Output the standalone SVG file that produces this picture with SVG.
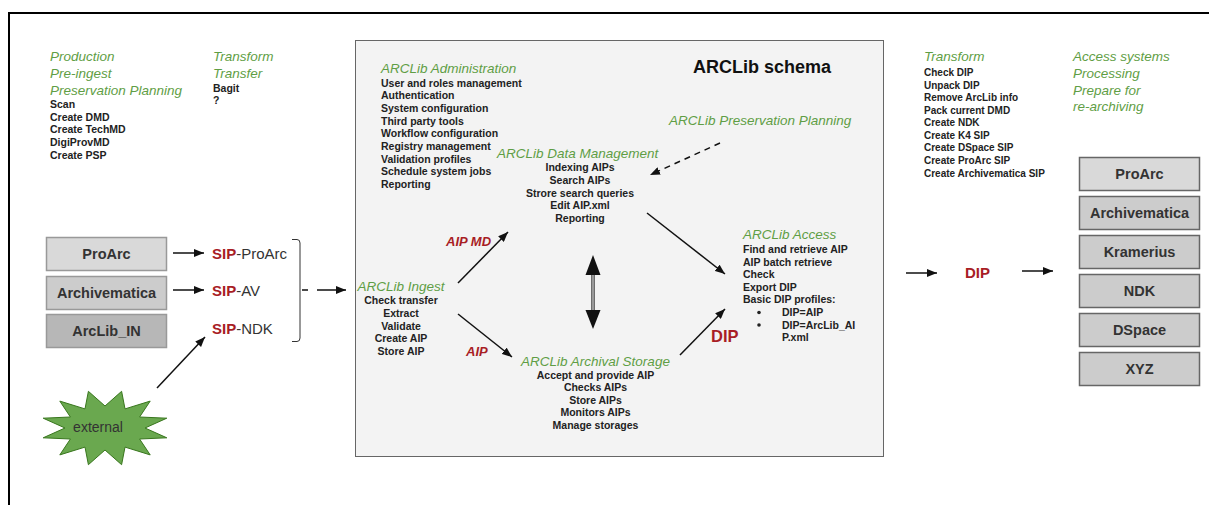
<svg xmlns="http://www.w3.org/2000/svg" width="1209" height="505" viewBox="0 0 1209 505">
<defs>
<marker id="ah" viewBox="0 0 10 8" refX="10" refY="4" markerWidth="10" markerHeight="8" markerUnits="userSpaceOnUse" orient="auto"><path d="M0,0 L10,4 L0,8 z" fill="#111"/></marker>
</defs>
<style>
.g{font-family:"Liberation Sans",Arial,sans-serif;font-style:italic;font-size:13.5px;fill:#5f9e45}
.b{font-family:"Liberation Sans",Arial,sans-serif;font-weight:bold;font-size:10.5px;fill:#222}
.br{font-family:"Liberation Sans",Arial,sans-serif;font-weight:bold;font-size:10px;fill:#222}
.c{text-anchor:middle}
.red{fill:#a81d25}
.bx{font-family:"Liberation Sans",Arial,sans-serif;font-weight:bold;font-size:14.5px;fill:#333;text-anchor:middle}
.sip{font-family:"Liberation Sans",Arial,sans-serif;font-size:15px;fill:#333}
.ln{stroke:#111;stroke-width:1.5;fill:none}
.lb{stroke:#999;stroke-width:1.5}
.rb{stroke:#666;stroke-width:1.5}
</style>
<rect x="0" y="0" width="1209" height="505" fill="#fff"/>
<path d="M9,505 L9,13 L1209,13" fill="none" stroke="#000" stroke-width="2"/>

<g id="left-texts">
<text class="g" x="50" y="61">Production</text>
<text class="g" x="50" y="78">Pre-ingest</text>
<text class="g" x="50" y="95">Preservation Planning</text>
<text class="b" x="50" y="108">Scan</text>
<text class="b" x="50" y="121">Create DMD</text>
<text class="b" x="50" y="133">Create TechMD</text>
<text class="b" x="50" y="146">DigiProvMD</text>
<text class="b" x="50" y="159">Create PSP</text>
<text class="g" x="213" y="61">Transform</text>
<text class="g" x="213" y="78">Transfer</text>
<text class="b" x="213" y="92">Bagit</text>
<text class="b" x="213" y="104">?</text>
</g>

<g id="arclib-schema">
<rect x="355.5" y="40.5" width="528" height="416" fill="#f3f3f3" stroke="#666" stroke-width="1"/>
<text x="693" y="73" font-family="Liberation Sans, Arial, sans-serif" font-weight="bold" font-size="18" fill="#111">ARCLib schema</text>
</g>

<g id="administration">
<text class="g" x="381" y="73">ARCLib Administration</text>
<text class="b" x="381" y="86.5">User and roles management</text>
<text class="b" x="381" y="99">Authentication</text>
<text class="b" x="381" y="112">System configuration</text>
<text class="b" x="381" y="124.5">Third party tools</text>
<text class="b" x="381" y="137">Workflow configuration</text>
<text class="b" x="381" y="150">Registry management</text>
<text class="b" x="381" y="162.5">Validation profiles</text>
<text class="b" x="381" y="175">Schedule system jobs</text>
<text class="b" x="381" y="188">Reporting</text>
</g>

<g id="preservation-planning">
<text class="g" x="669" y="125">ARCLib Preservation Planning</text>
</g>

<g id="data-management">
<text class="g" x="497" y="158">ARCLib Data Management</text>
<text class="b c" x="580" y="171">Indexing AIPs</text>
<text class="b c" x="580" y="184">Search AIPs</text>
<text class="b c" x="580" y="196.5">Strore search queries</text>
<text class="b c" x="580" y="209">Edit AIP.xml</text>
<text class="b c" x="580" y="221.5">Reporting</text>
</g>

<g id="ingest">
<text class="g c" x="401" y="291">ARCLib Ingest</text>
<text class="b c" x="401" y="304">Check transfer</text>
<text class="b c" x="401" y="317">Extract</text>
<text class="b c" x="401" y="329.5">Validate</text>
<text class="b c" x="401" y="342">Create AIP</text>
<text class="b c" x="401" y="355">Store AIP</text>
</g>

<g id="archival-storage">
<text class="g c" x="595.5" y="366">ARCLib Archival Storage</text>
<text class="b c" x="595.5" y="378.5">Accept and provide AIP</text>
<text class="b c" x="595.5" y="391">Checks AIPs</text>
<text class="b c" x="595.5" y="403.5">Store AIPs</text>
<text class="b c" x="595.5" y="416">Monitors AIPs</text>
<text class="b c" x="595.5" y="429">Manage storages</text>
</g>

<g id="access">
<text class="g" x="743" y="239">ARCLib Access</text>
<text class="b" x="743" y="253">Find and retrieve AIP</text>
<text class="b" x="743" y="265.5">AIP batch retrieve</text>
<text class="b" x="743" y="278">Check</text>
<text class="b" x="743" y="290.5">Export DIP</text>
<text class="b" x="743" y="303">Basic DIP profiles:</text>
<circle cx="759" cy="312.5" r="1.8" fill="#222"/>
<circle cx="759" cy="325" r="1.8" fill="#222"/>
<text class="b" x="782" y="316">DIP=AIP</text>
<text class="b" x="782" y="328.5">DIP=ArcLib_AI</text>
<text class="b" x="782" y="341">P.xml</text>
</g>

<g id="right-texts">
<text class="g" x="924" y="61">Transform</text>
<text class="br" x="924" y="76">Check DIP</text>
<text class="br" x="924" y="88.5">Unpack DIP</text>
<text class="br" x="924" y="101">Remove ArcLib info</text>
<text class="br" x="924" y="113.5">Pack current DMD</text>
<text class="br" x="924" y="126">Create NDK</text>
<text class="br" x="924" y="138.5">Create K4 SIP</text>
<text class="br" x="924" y="151">Create DSpace SIP</text>
<text class="br" x="924" y="163.5">Create ProArc SIP</text>
<text class="br" x="924" y="176.5">Create Archivematica SIP</text>
<text class="g" x="1073" y="61">Access systems</text>
<text class="g" x="1073" y="78">Processing</text>
<text class="g" x="1073" y="95">Prepare for</text>
<text class="g" x="1073" y="111">re-archiving</text>
</g>

<g id="src-proarc"><rect x="46.5" y="237.5" width="120" height="33" fill="#d9d9d9" class="lb"/><text class="bx" x="106.5" y="259">ProArc</text></g>
<g id="src-archivematica"><rect x="46.5" y="276.5" width="120" height="33" fill="#cccccc" class="lb"/><text class="bx" x="106.5" y="298">Archivematica</text></g>
<g id="src-arclib-in"><rect x="46.5" y="314.5" width="120" height="33" fill="#b7b7b7" class="lb"/><text class="bx" x="106.5" y="336">ArcLib_IN</text></g>

<g id="external">
<polygon points="105,406 121.6,391.3 125,408.9 150.2,401.1 139.6,417 166.8,418.2 145,428 166.8,437.8 139.6,439 150.2,454.9 125,447.1 121.6,464.7 105,450 88.4,464.7 85,447.1 59.8,454.9 70.4,439 43.2,437.8 65,428 43.2,418.2 70.4,417 59.8,401.1 85,408.9 88.4,391.3" fill="#6aa84f" stroke="#38761d" stroke-width="1"/>
<text x="98" y="432" font-family="Liberation Sans, Arial, sans-serif" font-size="14" fill="#333" text-anchor="middle">external</text>
</g>

<g id="sips">
<text class="sip" x="212" y="258.5"><tspan class="red" font-weight="bold">SIP</tspan>-ProArc</text>
<text class="sip" x="212" y="295.5"><tspan class="red" font-weight="bold">SIP</tspan>-AV</text>
<text class="sip" x="212" y="333.5"><tspan class="red" font-weight="bold">SIP</tspan>-NDK</text>
<path d="M292,239.5 L297,239.5 Q300,239.5 300,243 L300,338 Q300,341.5 297,341.5 L292,341.5" fill="none" stroke="#333" stroke-width="1"/>
</g>

<g id="right-dip">
<text x="965" y="278" font-family="Liberation Sans, Arial, sans-serif" font-weight="bold" font-size="15" class="red">DIP</text>
</g>

<g id="dest-proarc"><rect x="1079.5" y="157.5" width="120" height="33" fill="#d9d9d9" class="rb"/><text class="bx" x="1139.5" y="179">ProArc</text></g>
<g id="dest-archivematica"><rect x="1079.5" y="196.5" width="120" height="33" fill="#cccccc" class="rb"/><text class="bx" x="1139.5" y="218">Archivematica</text></g>
<g id="dest-kramerius"><rect x="1079.5" y="235.5" width="120" height="33" fill="#cccccc" class="rb"/><text class="bx" x="1139.5" y="257">Kramerius</text></g>
<g id="dest-ndk"><rect x="1079.5" y="274.5" width="120" height="33" fill="#cccccc" class="rb"/><text class="bx" x="1139.5" y="296">NDK</text></g>
<g id="dest-dspace"><rect x="1079.5" y="313.5" width="120" height="33" fill="#cccccc" class="rb"/><text class="bx" x="1139.5" y="335">DSpace</text></g>
<g id="dest-xyz"><rect x="1079.5" y="352.5" width="120" height="33" fill="#cccccc" class="rb"/><text class="bx" x="1139.5" y="374">XYZ</text></g>

<g id="connectors">
<line class="ln" x1="173" y1="253" x2="204" y2="253" marker-end="url(#ah)"/>
<line class="ln" x1="173" y1="290" x2="204" y2="290" marker-end="url(#ah)"/>
<line class="ln" x1="157" y1="388" x2="205" y2="337" marker-end="url(#ah)"/>
<line class="ln" x1="302" y1="290" x2="346" y2="290" stroke-dasharray="6,9,40" marker-end="url(#ah)"/>
<line class="ln" x1="458" y1="283" x2="508" y2="232" marker-end="url(#ah)"/>
<line class="ln" x1="458" y1="314" x2="512" y2="357" marker-end="url(#ah)"/>
<line class="ln" x1="680" y1="355" x2="725" y2="309" marker-end="url(#ah)"/>
<line class="ln" x1="647" y1="213" x2="725" y2="274" marker-end="url(#ah)"/>
<line class="ln" x1="720" y1="143" x2="650" y2="175" stroke-dasharray="6,5" marker-end="url(#ah)"/>
<rect x="591.5" y="273" width="3" height="38" fill="#999" stroke="#333" stroke-width="0.6"/>
<polygon points="593,255 585.5,275 600.5,275" fill="#111"/>
<polygon points="593,329 585.5,310 600.5,310" fill="#111"/>
<line class="ln" x1="906" y1="273" x2="937" y2="273" marker-end="url(#ah)"/>
<line class="ln" x1="1022" y1="271" x2="1053" y2="271" marker-end="url(#ah)"/>
<text x="446" y="246" font-family="Liberation Sans, Arial, sans-serif" font-weight="bold" font-style="italic" font-size="13" class="red">AIP MD</text>
<text x="466" y="356" font-family="Liberation Sans, Arial, sans-serif" font-weight="bold" font-style="italic" font-size="13" class="red">AIP</text>
<text x="711" y="342" font-family="Liberation Sans, Arial, sans-serif" font-weight="bold" font-size="16.5" class="red">DIP</text>
</g>
</svg>
